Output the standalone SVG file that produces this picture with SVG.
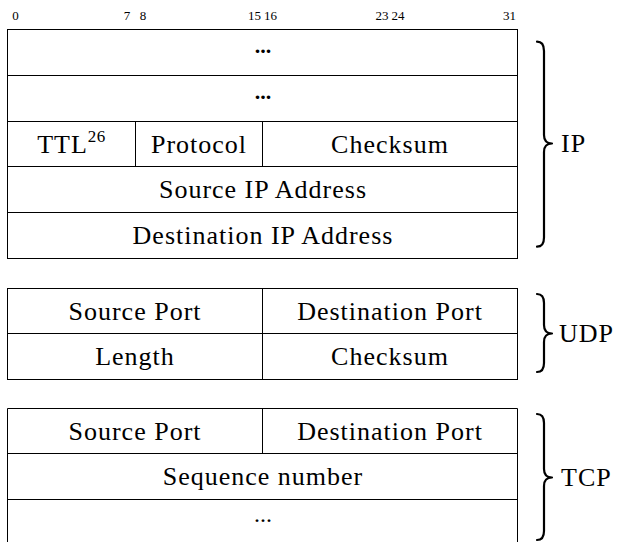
<svg xmlns="http://www.w3.org/2000/svg" width="618" height="542" viewBox="0 0 618 542">
<style>
  .bg { fill: #ffffff; }
  .cell { fill: none; stroke: #000; stroke-width: 1; }
  .ln { stroke: #000; stroke-width: 1; fill: none; }
  text { font-family: "Liberation Serif", Tinos, "Noto Serif", "DejaVu Serif", "Nimbus Roman", "Nimbus Roman No9 L", FreeSerif, Times, "Times New Roman", serif; fill: #000; }
  .t { font-size: 26px; letter-spacing: 1px; text-anchor: middle; }
  .dots { font-size: 22px; font-weight: bold; text-anchor: middle; }
  .dots2 { font-size: 24px; text-anchor: middle; }
  .bit { font-size: 13px; text-anchor: middle; }
  .lbl { font-size: 26px; letter-spacing: 1px; text-anchor: start; }
  .brace { fill: none; stroke: #000; stroke-width: 2.2; stroke-linecap: round; stroke-linejoin: round; }
</style>
<rect class="bg" x="0" y="0" width="618" height="542"/>

<g id="bit-ruler">
  <text class="bit" x="15.5" y="20">0</text>
  <text class="bit" x="127" y="20">7</text>
  <text class="bit" x="143" y="20">8</text>
  <text class="bit" x="254.5" y="20">15</text>
  <text class="bit" x="270.5" y="20">16</text>
  <text class="bit" x="382" y="20">23</text>
  <text class="bit" x="398" y="20">24</text>
  <text class="bit" x="509.5" y="20">31</text>
</g>

<g id="ip-header">
  <rect class="cell" x="7.5" y="29.5" width="510" height="229"/>
  <g id="ip-row1">
    <text class="dots" x="263" y="53">...</text>
  </g>
  <line class="ln" x1="7.5" y1="75.5" x2="517.5" y2="75.5"/>
  <g id="ip-row2">
    <text class="dots" x="263" y="99">...</text>
  </g>
  <line class="ln" x1="7.5" y1="121.5" x2="517.5" y2="121.5"/>
  <g id="ip-ttl">
    <text class="t" x="71.5" y="153" font-family="Liberation Serif, serif">TTL<tspan font-size="17" dy="-11" letter-spacing="0.5">26</tspan></text>
  </g>
  <line class="ln" x1="135.5" y1="121.5" x2="135.5" y2="166.5"/>
  <g id="ip-protocol">
    <text class="t" x="199" y="153">Protocol</text>
  </g>
  <line class="ln" x1="262.5" y1="121.5" x2="262.5" y2="166.5"/>
  <g id="ip-checksum">
    <text class="t" x="390" y="153">Checksum</text>
  </g>
  <line class="ln" x1="7.5" y1="166.5" x2="517.5" y2="166.5"/>
  <g id="ip-src">
    <text class="t" x="263" y="198">Source IP Address</text>
  </g>
  <line class="ln" x1="7.5" y1="212.5" x2="517.5" y2="212.5"/>
  <g id="ip-dst">
    <text class="t" x="263" y="244">Destination IP Address</text>
  </g>
</g>

<g id="udp-header">
  <rect class="cell" x="7.5" y="288.5" width="510" height="91"/>
  <line class="ln" x1="7.5" y1="333.5" x2="517.5" y2="333.5"/>
  <line class="ln" x1="262.5" y1="288.5" x2="262.5" y2="379.5"/>
  <g id="udp-srcport"><text class="t" x="135" y="320">Source Port</text></g>
  <g id="udp-dstport"><text class="t" x="390" y="320">Destination Port</text></g>
  <g id="udp-length"><text class="t" x="135" y="365">Length</text></g>
  <g id="udp-checksum"><text class="t" x="390" y="365">Checksum</text></g>
</g>

<g id="tcp-header">
  <path class="ln" d="M7.5,550 L7.5,408.5 L517.5,408.5 L517.5,550"/>
  <line class="ln" x1="7.5" y1="453.5" x2="517.5" y2="453.5"/>
  <line class="ln" x1="7.5" y1="499.5" x2="517.5" y2="499.5"/>
  <line class="ln" x1="262.5" y1="408.5" x2="262.5" y2="453.5"/>
  <g id="tcp-srcport"><text class="t" x="135" y="440">Source Port</text></g>
  <g id="tcp-dstport"><text class="t" x="390" y="440">Destination Port</text></g>
  <g id="tcp-seq"><text class="t" x="263" y="485">Sequence number</text></g>
  <g id="tcp-more"><text class="dots2" x="263" y="522">...</text></g>
</g>

<g id="braces">
  <path class="brace" d="M537,41.7 C541.5,41.7 544,44 544,51 L544,135 C544,140 546.5,143.5 552,143.5 C546.5,143.5 544,147 544,152 L544,237.5 C544,244.5 541.5,246.7 537,246.7"/>
  <path class="brace" d="M537,294 C541.5,294 544,296.5 544,303 L544,325 C544,330 546.5,333.5 552,333.5 C546.5,333.5 544,337 544,342 L544,363 C544,369.5 541.5,372 537,372"/>
  <path class="brace" d="M537,414 C541.5,414 544,416.5 544,423 L544,469 C544,474 546.5,477.5 552,477.5 C546.5,477.5 544,481 544,486 L544,531 C544,537.5 541.5,540 537,540"/>
</g>

<g id="labels">
  <g id="label-ip"><text class="lbl" x="561" y="152">IP</text></g>
  <g id="label-udp"><text class="lbl" x="559" y="342">UDP</text></g>
  <g id="label-tcp"><text class="lbl" x="561" y="486">TCP</text></g>
</g>
</svg>
